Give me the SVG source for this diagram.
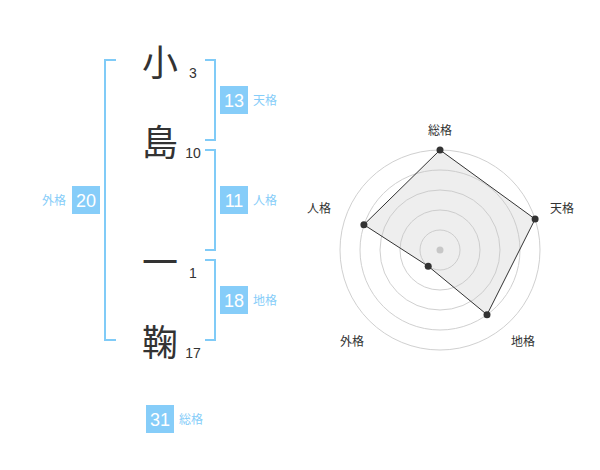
<svg xmlns="http://www.w3.org/2000/svg" width="600" height="470" viewBox="0 0 600 470">
<style>
.ch{font-family:"Noto Sans CJK JP","Noto Sans CJK SC",sans-serif;font-size:36px;fill:#333;text-anchor:middle}
.num{font-family:"Liberation Sans",Arial,sans-serif;font-size:14px;fill:#333;text-anchor:middle}
.br{fill:none;stroke:#80cbf7;stroke-width:2}
.box{fill:#86cdf9}
.bn{font-family:"Liberation Sans",Arial,sans-serif;font-size:18px;fill:#fff;text-anchor:middle}
.lb{font-family:"Noto Sans CJK JP","Noto Sans CJK SC",sans-serif;font-size:12px;fill:#86cdf9}
.ring{fill:none;stroke:#d0d0d0;stroke-width:1}
.rl{font-family:"Noto Sans CJK JP","Noto Sans CJK SC",sans-serif;font-size:12px;fill:#333;text-anchor:middle}
.dot{fill:#333}
</style>
<rect width="600" height="470" fill="#fff"/>
<g id="chars">
<text class="ch" x="160" y="76">小</text>
<text class="ch" x="160" y="156">島</text>
<text class="ch" x="160" y="276">一</text>
<text class="ch" x="160" y="356">鞠</text>
<text class="num" x="193" y="78">3</text>
<text class="num" x="193" y="158">10</text>
<text class="num" x="193" y="278">1</text>
<text class="num" x="193" y="358">17</text>
</g>
<g id="connectors">
<path class="br" d="M116,60 H105 V340 H116"/>
<path class="br" d="M205,60 H215 V140 H205"/>
<path class="br" d="M205,150 H215 V250 H205"/>
<path class="br" d="M205,260 H215 V340 H205"/>
</g>
<g id="tenkaku">
<rect class="box" x="220" y="86" width="28" height="28"/>
<text class="bn" x="234" y="106.5">13</text>
<text class="lb" x="253" y="104.5">天格</text>
</g>
<g id="jinkaku">
<rect class="box" x="220" y="186" width="28" height="28"/>
<text class="bn" x="234" y="206.5">11</text>
<text class="lb" x="253" y="204.5">人格</text>
</g>
<g id="chikaku">
<rect class="box" x="220" y="286" width="28" height="28"/>
<text class="bn" x="234" y="306.5">18</text>
<text class="lb" x="253" y="304.5">地格</text>
</g>
<g id="gaikaku">
<rect class="box" x="72" y="186" width="28" height="28"/>
<text class="bn" x="86" y="206.5">20</text>
<text class="lb" x="66" y="204.5" text-anchor="end">外格</text>
</g>
<g id="soukaku">
<rect class="box" x="146" y="405" width="28" height="28"/>
<text class="bn" x="160" y="425.5">31</text>
<text class="lb" x="179" y="423.5">総格</text>
</g>
<g id="radar">
<circle class="ring" cx="440" cy="250" r="20"/>
<circle class="ring" cx="440" cy="250" r="40"/>
<circle class="ring" cx="440" cy="250" r="60"/>
<circle class="ring" cx="440" cy="250" r="80"/>
<circle class="ring" cx="440" cy="250" r="100"/>
<circle cx="440" cy="250" r="3.5" fill="#c8c8c8"/>
<polygon points="440,150 535.1,219.1 487,314.7 428.2,266.2 363.9,224.7" fill="rgba(200,200,200,0.3)" stroke="#333" stroke-width="1"/>
<circle class="dot" cx="440" cy="150" r="3.5"/>
<circle class="dot" cx="535.1" cy="219.1" r="3.5"/>
<circle class="dot" cx="487" cy="314.7" r="3.5"/>
<circle class="dot" cx="428.2" cy="266.2" r="3.5"/>
<circle class="dot" cx="363.9" cy="224.7" r="3.5"/>
<text class="rl" x="440" y="135">総格</text>
<text class="rl" x="562" y="213">天格</text>
<text class="rl" x="523" y="346">地格</text>
<text class="rl" x="352" y="346">外格</text>
<text class="rl" x="319" y="213">人格</text>
</g>
</svg>
